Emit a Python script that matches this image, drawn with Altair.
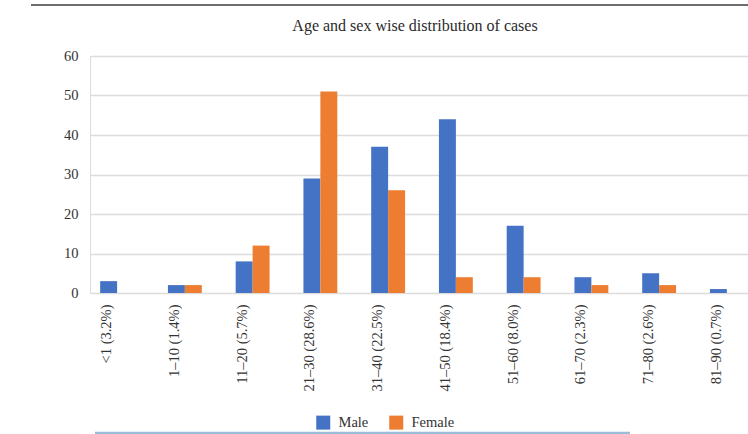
import altair as alt
import pandas as pd

# Age groups (with share of all cases) and counts per sex
ages = ["<1 (3.2%)", "1–10 (1.4%)", "11–20 (5.7%)", "21–30 (28.6%)", "31–40 (22.5%)",
        "41–50 (18.4%)", "51–60 (8.0%)", "61–70 (2.3%)", "71–80 (2.6%)", "81–90 (0.7%)"]
male = [3, 2, 8, 29, 37, 44, 17, 4, 5, 1]
female = [0, 2, 12, 51, 26, 4, 4, 2, 2, 0]
sexes = ["Male", "Female"]
colors = ["#4472C4", "#ED7D31"]
y_ticks = [0, 10, 20, 30, 40, 50, 60]
title_text = "Age and sex wise distribution of cases"

rows = []
for a, m, f in zip(ages, male, female):
    rows.append({"age": a, "sex": "Male", "count": m})
    rows.append({"age": a, "sex": "Female", "count": f})
df = pd.DataFrame(rows)

FONT = "Liberation Serif"
TEXT = "#333333"
W, H = 658, 237

bars = alt.Chart(df).mark_bar().encode(
    x=alt.X("age:N", sort=ages, title=None,
            scale=alt.Scale(range=[0, 664], paddingInner=0.5, paddingOuter=0.15),
            axis=alt.Axis(labelAngle=270, labelAlign="right", labelBaseline="middle",
                          labelOffset=-10, labelPadding=11, ticks=False, domain=False,
                          grid=False, labelFont=FONT, labelFontSize=14.5,
                          labelColor=TEXT, labelOverlap=False)),
    xOffset=alt.XOffset("sex:N", sort=sexes,
                        scale=alt.Scale(paddingInner=0, paddingOuter=0)),
    y=alt.Y("count:Q", title=None,
            scale=alt.Scale(domain=[0, 60], nice=False),
            axis=alt.Axis(values=y_ticks, ticks=False, domain=False, labelPadding=12,
                          labelFont=FONT, labelFontSize=14.5, labelColor=TEXT,
                          gridColor="#dcdcdc", gridWidth=1.5)),
    color=alt.Color("sex:N", sort=sexes,
                    scale=alt.Scale(domain=sexes, range=colors),
                    legend=alt.Legend(title=None, orient="none", legendX=226, legendY=359,
                                      direction="horizontal", symbolType="square",
                                      symbolSize=196, symbolStrokeWidth=0,
                                      labelFont=FONT, labelFontSize=14.5,
                                      labelColor=TEXT, labelOffset=8,
                                      columnPadding=20, padding=0, offset=0)),
)

# Chart heading, centred above the plot
heading = alt.Chart(pd.DataFrame({"t": [title_text]})).mark_text(
    font=FONT, fontSize=16, color="#2a2a2a", align="center", baseline="alphabetic"
).encode(text="t:N", x=alt.value(325), y=alt.value(-25))

# Decorative rules: dark line across the top, light blue line under the legend
top_line = alt.Chart(pd.DataFrame({"k": [0]})).mark_rule(
    color="#6e6e6e", strokeWidth=2
).encode(x=alt.value(-59), x2=alt.value(W + 2), y=alt.value(-51))

bottom_line = alt.Chart(pd.DataFrame({"k": [0]})).mark_rule(
    color="#9bbcd6", strokeWidth=2.5
).encode(x=alt.value(5), x2=alt.value(540), y=alt.value(377))

chart = alt.layer(bars, heading, top_line, bottom_line).properties(
    width=W, height=H,
    autosize=alt.AutoSizeParams(type="none"),
    padding={"left": 90, "top": 56, "right": 0, "bottom": 141},
).configure_view(stroke=None).configure(background="white")

chart.save("out.html", embed_options={"renderer": "svg", "actions": False})
